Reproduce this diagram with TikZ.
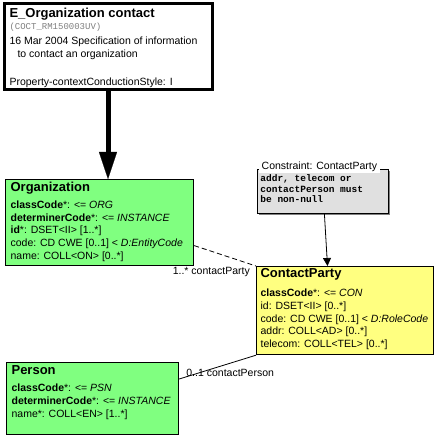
\documentclass[tikz,border=0pt]{standalone}
\usepackage{fontspec}
\setmainfont{Liberation Sans}
\setmonofont{Liberation Mono}
\usetikzlibrary{arrows.meta, shadows}
\definecolor{classgreen}{RGB}{128,255,128}
\definecolor{classyellow}{RGB}{255,255,128}
\definecolor{notegray}{RGB}{224,224,224}
\newcommand{\titlef}{\fontsize{13}{15}\selectfont\bfseries}
\newcommand{\bodyf}{\fontsize{10.5}{12.7}\selectfont}
\tikzstyle{header} = [rectangle, draw, line width=3pt, fill=white, anchor=north west, inner xsep=5.5pt, inner ysep=4pt]
\tikzstyle{classg} = [rectangle, draw, line width=1.2pt, fill=classgreen, anchor=north west, inner xsep=5pt, inner ysep=2.5pt]
\tikzstyle{classy} = [rectangle, draw, line width=1.2pt, fill=classyellow, anchor=north west, inner xsep=4pt, inner ysep=2pt]
\tikzstyle{note} = [rectangle, draw, line width=0.8pt, fill=notegray, anchor=north west, inner xsep=3pt, inner ysep=5.5pt, drop shadow={shadow xshift=1.2pt, shadow yshift=-1.2pt, fill=gray, opacity=1}]
\tikzstyle{notetitle} = [fill=white, anchor=base west, inner xsep=2.5pt, inner ysep=1pt, font=\bodyf]
\tikzstyle{rolelabel} = [inner sep=0pt, font=\bodyf]
\tikzstyle{line} = [draw, line width=0.8pt, -{Triangle[width=8pt,length=8pt]}]
\tikzstyle{assoc} = [draw, line width=0.8pt]
\tikzstyle{heavy} = [draw, line width=5pt, -{Triangle[width=18pt,length=27pt,line width=0.1pt]}]

\begin{document}
\begin{tikzpicture}[x=1pt, y=-1pt]
\useasboundingbox (0,0) rectangle (436,435);

% header
\node [header] (Top) at (2.5,2.5) {\parbox[c][77.5pt][t]{197pt}{%
{\titlef E\_Organization contact\par}
{\fontsize{9}{12}\selectfont\ttfamily\color{gray}(COCT\_RM150003UV)\par}
{\bodyf\fontsize{10.5}{15}\selectfont 16 Mar 2004 Specification of information\par}
{\bodyf\hspace*{8pt}to contact an organization\par}
\vspace{15.4pt}
{\bodyf Property-contextConductionStyle: I\par}}};

% classes
\node [classg] (Org) at (5,179) {\parbox[c][81pt][t]{178pt}{%
{\titlef Organization\par}
\vspace{4.3pt}
{\bodyf \textbf{classCode}*: <= \textit{ORG}\\
\textbf{determinerCode}*: <= \textit{INSTANCE}\\
\textbf{id}*: DSET<II> [1..*]\\
code: CD CWE [0..1] < \textit{D:EntityCode}\\
name: COLL<ON> [0..*]\par}}};

\node [classy] (CP) at (256,266) {\parbox[c][84pt][t]{169pt}{%
{\titlef ContactParty\par}
\vspace{6.5pt}
{\bodyf \textbf{classCode}*: <= \textit{CON}\\
id: DSET<II> [0..*]\\
code: CD CWE [0..1] < \textit{D:RoleCode}\\
addr: COLL<AD> [0..*]\\
telecom: COLL<TEL> [0..*]\par}}};

\node [classg] (Person) at (6,362) {\parbox[c][67pt][t]{162pt}{%
{\titlef Person\par}
\vspace{5pt}
{\bodyf \textbf{classCode}*: <= \textit{PSN}\\
\textbf{determinerCode}*: <= \textit{INSTANCE}\\
name*: COLL<EN> [1..*]\par}}};

% constraint
\node [note] (Con) at (257,169) {\parbox[c][33pt][t]{125pt}{%
\fontsize{9.5}{10.5}\selectfont\ttfamily\bfseries addr, telecom or\\
contactPerson must\\
be non-null}};
\node [notetitle] (ConTitle) at (259,170) {Constraint: ContactParty\hspace{3pt}};

% connectors
\path [heavy] (Top.south) -- (Top.south |- Org.north);
\path [line] ([xshift=1.5pt]Con.south) -- ([xshift=71.5pt]CP.north west);
\path [assoc, dash pattern=on 5pt off 3pt] ([yshift=-23pt]Org.east) -- (CP.north west);
\node [rolelabel, anchor=base east] (L1) at ([xshift=-6pt,yshift=-9pt]CP.north west) {1..* contactParty};
\path [assoc] ([yshift=-17pt]Person.north east) -- (CP.south west);
\node [rolelabel, anchor=base west] (L2) at ([xshift=7pt,yshift=-14pt]Person.north east) {0..1 contactPerson};

\end{tikzpicture}
\end{document}
